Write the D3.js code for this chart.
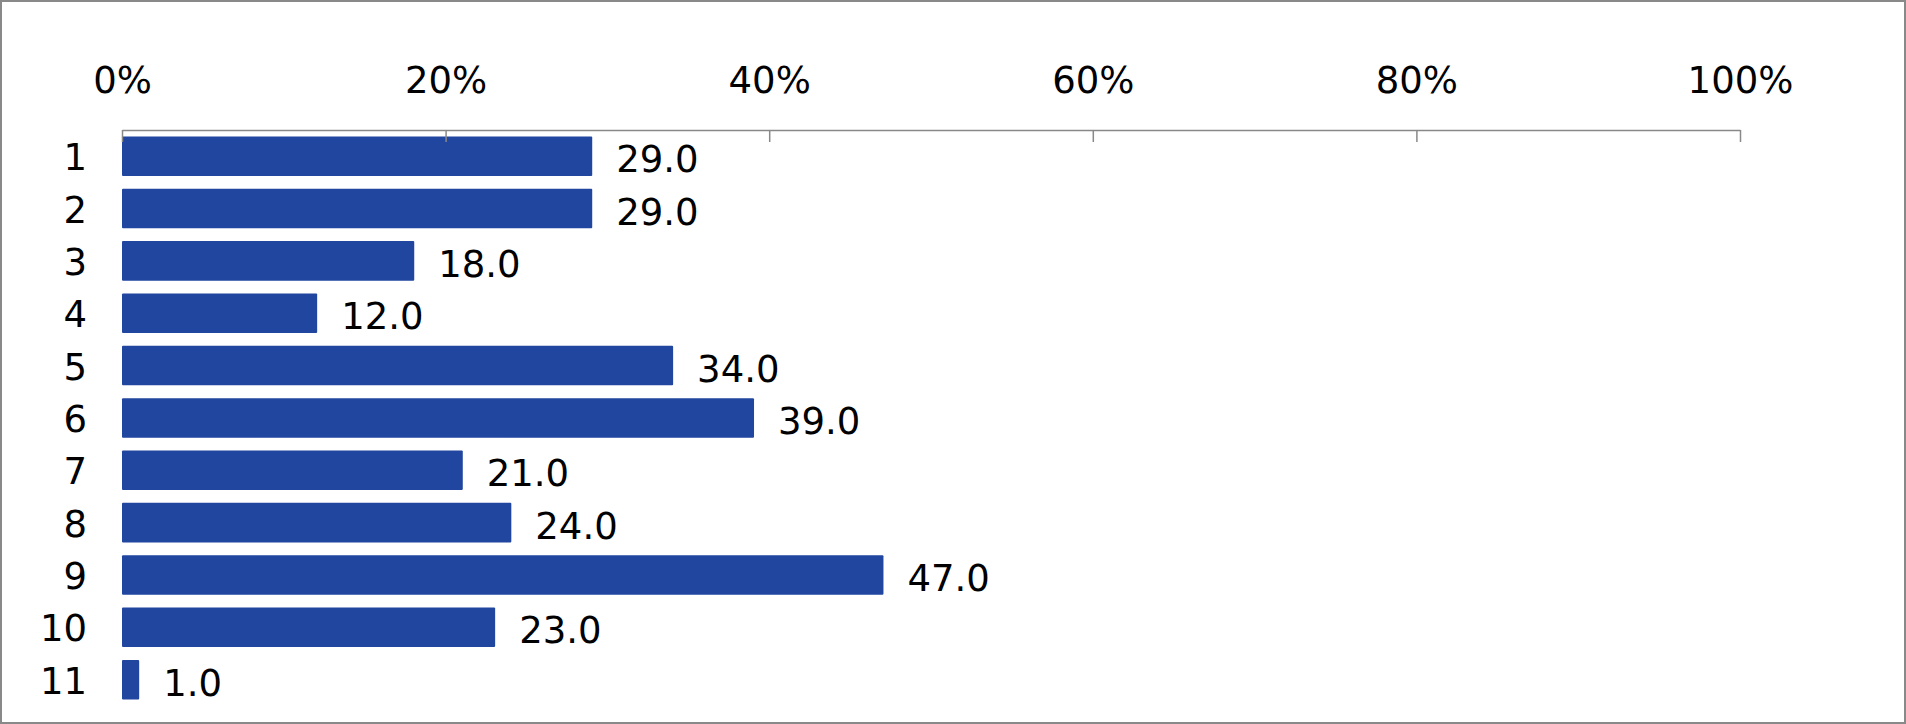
<!DOCTYPE html>
<html>
<head>
<meta charset="utf-8">
<script src="https://cdn.jsdelivr.net/npm/d3@7"></script>
<style>
  html, body { margin: 0; padding: 0; background: #fff; }
  svg { display: block; }
  text { font-family: "DejaVu Sans", Verdana, sans-serif; fill: #000; }
</style>
</head>
<body>
<svg id="chart" width="1906" height="724"></svg>
<script>
const categories = ["1", "2", "3", "4", "5", "6", "7", "8", "9", "10", "11"];
const values = [29.0, 29.0, 18.0, 12.0, 34.0, 39.0, 21.0, 24.0, 47.0, 23.0, 1.0];
const tickValues = [0, 20, 40, 60, 80, 100];

const W = 1906, H = 724;
const svg = d3.select("#chart");

// outer frame
svg.append("rect")
  .attr("x", 1).attr("y", 1)
  .attr("width", W - 2).attr("height", H - 2)
  .attr("fill", "#fff")
  .attr("stroke", "#898989")
  .attr("stroke-width", 2);

const x = d3.scaleLinear().domain([0, 100]).range([122, 1740]);
const y = d3.scaleBand()
  .domain(categories)
  .range([130, 130 + 11 * 52.35])
  .paddingInner(0.244)
  .paddingOuter(0.122);

// bars
svg.append("g").selectAll("rect")
  .data(values)
  .join("rect")
  .attr("x", x(0))
  .attr("y", (d, i) => y(categories[i]))
  .attr("width", d => x(d) - x(0) + 1)
  .attr("height", y.bandwidth())
  .attr("rx", 1)
  .attr("fill", "#2146A0");

// value labels
svg.append("g").selectAll("text")
  .data(values)
  .join("text")
  .attr("x", d => x(d) + 25)
  .attr("y", (d, i) => y(categories[i]) + y.bandwidth() / 2 + 16)
  .attr("font-size", 37)
  .text(d => d.toFixed(1));

// category labels
svg.append("g").selectAll("text")
  .data(categories)
  .join("text")
  .attr("x", 87)
  .attr("y", d => y(d) + y.bandwidth() / 2 + 14)
  .attr("text-anchor", "end")
  .attr("font-size", 37)
  .text(d => d);

// top axis with ticks pointing down
const axis = d3.axisTop(x)
  .tickValues(tickValues)
  .tickFormat(d => d + "%")
  .tickSizeInner(-12)
  .tickSizeOuter(0)
  .tickPadding(37);

const gAxis = svg.append("g")
  .attr("transform", "translate(0,130)")
  .call(axis);
gAxis.select(".domain").attr("stroke", "#898989").attr("stroke-width", 1.5);
gAxis.selectAll(".tick line").attr("stroke", "#898989").attr("stroke-width", 1.5);
gAxis.selectAll(".tick text")
  .attr("font-family", "DejaVu Sans, Verdana, sans-serif")
  .attr("font-size", 37)
  .attr("fill", "#000");
</script>
</body>
</html>
